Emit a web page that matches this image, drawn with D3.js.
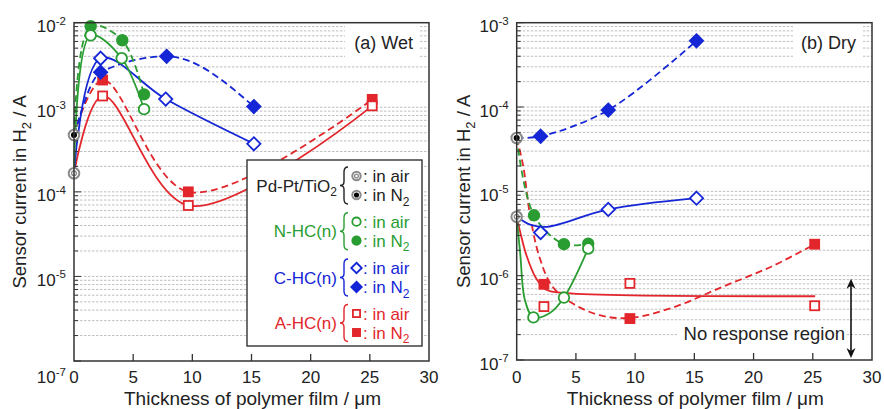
<!DOCTYPE html>
<html><head><meta charset="utf-8">
<script src="https://cdn.jsdelivr.net/npm/d3@7"></script>
<style>body{margin:0;background:#fff} svg{display:block;font-family:"Liberation Sans",Arial,sans-serif}</style>
</head><body><svg id="c" width="884" height="409"></svg>
<script>
// ---------------- data ----------------
const xTickValues = [0, 5, 10, 15, 20, 25, 30];
const wetYDecades = [1e-2, 1e-3, 1e-4, 1e-5, 1e-6];
const wetYExponents = ["-2", "-3", "-4", "-5", "-7"];
const dryYDecades = [1e-3, 1e-4, 1e-5, 1e-6, 1e-7];
const dryYExponents = ["-3", "-4", "-5", "-6", "-7"];

// (a) Wet  [thickness µm, current A]
const wetPdAir = [[0, 1.66e-4]];
const wetPdN2  = [[0, 4.7e-4]];
const wetNAir  = [[1.41, 7.1e-3], [4.03, 3.8e-3], [5.92, 9.5e-4]];
const wetNN2   = [[1.41, 9.1e-3], [4.08, 6.2e-3], [5.92, 1.42e-3]];
const wetCAir  = [[2.25, 3.8e-3], [7.75, 1.25e-3], [15.2, 3.7e-4]];
const wetCN2   = [[2.25, 2.6e-3], [7.83, 4.0e-3], [15.2, 1.02e-3]];
const wetAAir  = [[2.42, 1.36e-3], [9.66, 6.9e-5], [25.2, 1.04e-3]];
const wetAN2   = [[2.42, 2.1e-3], [9.66, 1.0e-4], [25.2, 1.24e-3]];

// (b) Dry
const dryPdAir = [[0, 5.0e-6]];
const dryPdN2  = [[0, 4.3e-5]];
const dryNAir  = [[1.41, 3.2e-7], [3.99, 5.5e-7], [6.04, 2.1e-6]];
const dryNN2   = [[1.46, 5.2e-6], [3.99, 2.36e-6], [6.04, 2.4e-6]];
const dryCAir  = [[2.02, 3.24e-6], [7.73, 6.1e-6], [15.18, 8.3e-6]];
const dryCN2   = [[2.02, 4.5e-5], [7.73, 9.2e-5], [15.18, 6.1e-4]];
const dryAAir  = [[2.3, 4.3e-7], [9.56, 8.1e-7], [25.16, 4.4e-7]];
const dryAN2   = [[2.3, 7.9e-7], [9.56, 3.1e-7], [25.16, 2.36e-6]];

// (b) Dry guide curves (drawn trends)
const dryNAirFit = [[0, 5e-6], [0.3, 1.8e-6], [0.7, 5.1e-7], [1.41, 3.2e-7], [2.8, 3.6e-7], [3.99, 5.5e-7], [6.04, 2.1e-6]];
const dryNN2Fit  = [[0, 4.3e-5], [1.46, 5.2e-6], [3.99, 2.36e-6], [6.04, 2.4e-6]];
const dryCAirFit = [[0, 5.0e-6], [1.2, 4.0e-6], [2.6, 3.8e-6], [7.73, 6.1e-6], [15.18, 8.3e-6]];
const dryCN2Fit  = [[0, 4.3e-5], [2.02, 4.5e-5], [7.73, 9.2e-5], [15.18, 6.1e-4]];
const dryAAirFit = [[0, 5e-6], [0.85, 1.7e-6], [1.7, 9e-7], [2.5, 6.8e-7], [4.2, 6.2e-7], [25.2, 5.7e-7]];
const dryAN2Fit  = [[0, 4.3e-5], [0.55, 2.0e-5], [1.1, 5.5e-6], [1.9, 1.7e-6], [3.0, 7.5e-7], [4.7, 4.7e-7], [7.0, 3.4e-7], [9.56, 3.15e-7], [13.2, 4.2e-7], [17.4, 7.4e-7], [21.6, 1.3e-6], [25.16, 2.36e-6]];

const legendGroups = ["Pd-Pt/TiO", "N-HC(n)", "C-HC(n)", "A-HC(n)"];
const legendGroupSubs = ["2", "", "", ""];

// ---------------- styles ----------------
const GREEN = "#2a9d32", BLUE = "#1526d6", RED = "#e2262b", GRAY = "#8a8a8a";
const svg = d3.select("#c");

function makePanel(cfg) {
  const x = d3.scaleLinear().domain([0, 30]).range([cfg.x0, cfg.x1]);
  const y = d3.scaleLog().domain(cfg.domain).range([cfg.y1, cfg.y0]);
  return {x, y, cfg};
}

const pA = makePanel({x0: 74, x1: 429, y0: 22.7, y1: 361, domain: [1e-6, 1e-2]});
const pB = makePanel({x0: 516.7, x1: 872, y0: 22.7, y1: 360, domain: [1e-7, 1e-3]});

function minorValues(domain) {
  const out = [];
  const lo = Math.round(Math.log10(domain[0])), hi = Math.round(Math.log10(domain[1]));
  for (let e = lo; e < hi; e++) for (let m = 1; m <= 9; m++) out.push(m * Math.pow(10, e));
  return out;
}

function drawGrid(p) {
  const g = svg.append("g");
  minorValues(p.cfg.domain).forEach(v => {
    if (v === p.cfg.domain[0]) return;
    g.append("line").attr("x1", p.cfg.x0 + 2).attr("x2", p.cfg.x1)
      .attr("y1", p.y(v)).attr("y2", p.y(v))
      .attr("stroke", "#b8b8b8").attr("stroke-width", 0.9).attr("stroke-dasharray", "2.5,1.5");
  });
}

function drawAxes(p, decades, exps, titleX, lastDown) {
  const g = svg.append("g");
  const c = p.cfg;
  minorValues(c.domain).concat([c.domain[1]]).forEach(v => {
    const isMajor = Math.abs(Math.log10(v) - Math.round(Math.log10(v))) < 1e-9;
    g.append("line").attr("x1", c.x0).attr("x2", c.x0 + (isMajor ? 7 : 4))
      .attr("y1", p.y(v)).attr("y2", p.y(v)).attr("stroke", "#333").attr("stroke-width", 1);
  });
  xTickValues.forEach(v => {
    if (v === 0 || v === 30) return;
    g.append("line").attr("x1", p.x(v)).attr("x2", p.x(v))
      .attr("y1", c.y1).attr("y2", c.y1 - 7).attr("stroke", "#333").attr("stroke-width", 1.3);
  });
  g.append("rect").attr("x", c.x0).attr("y", c.y0).attr("width", c.x1 - c.x0).attr("height", c.y1 - c.y0)
    .attr("fill", "none").attr("stroke", "#333").attr("stroke-width", 1.5);
  xTickValues.forEach(v => {
    g.append("text").attr("x", p.x(v)).attr("y", 383).attr("text-anchor", "middle")
      .attr("font-size", 17).attr("fill", "#222").text(v);
  });
  decades.forEach((v, i) => {
    let yy = p.y(v) + 9.5;
    if (lastDown && i === decades.length - 1) yy = 383;
    const t = g.append("text").attr("x", c.x0 - 8).attr("y", yy).attr("text-anchor", "end")
      .attr("font-size", 17).attr("fill", "#222");
    t.append("tspan").text("10");
    t.append("tspan").attr("dy", -7.5).attr("font-size", 11.5).text(exps[i]);
  });
  g.append("text").attr("x", (c.x0 + c.x1) / 2 + 1).attr("y", 404.5).attr("text-anchor", "middle")
    .attr("font-size", 19).attr("fill", "#222").text("Thickness of polymer film / \u03bcm");
  const yt = g.append("text").attr("transform", `translate(${titleX},${(c.y0 + c.y1) / 2}) rotate(-90)`)
    .attr("text-anchor", "middle").attr("font-size", 18.5).attr("fill", "#222");
  yt.append("tspan").text("Sensor current in H");
  yt.append("tspan").attr("dy", 4.5).attr("font-size", 13).text("2");
  yt.append("tspan").attr("dy", -4.5).text(" / A");
}

function drawCurve(p, data, color, dashed, curve) {
  const line = d3.line().x(d => p.x(d[0])).y(d => p.y(d[1]))
    .curve(curve || d3.curveCatmullRom.alpha(0.5));
  svg.append("path").datum(data).attr("d", line).attr("fill", "none")
    .attr("stroke", color).attr("stroke-width", 1.8)
    .attr("stroke-dasharray", dashed ? "7,4" : null);
}

function marker(g, shape, filled, color, cx, cy, s) {
  const fill = filled ? color : "#fff";
  if (shape === "circle") {
    g.append("circle").attr("cx", cx).attr("cy", cy).attr("r", s)
      .attr("fill", fill).attr("stroke", color).attr("stroke-width", 1.8);
  } else if (shape === "diamond") {
    const r = s * 1.25;
    g.append("path").attr("d", `M${cx},${cy - r}L${cx + r},${cy}L${cx},${cy + r}L${cx - r},${cy}Z`)
      .attr("fill", fill).attr("stroke", color).attr("stroke-width", 1.8);
  } else if (shape === "square") {
    const r = s * 0.85;
    g.append("rect").attr("x", cx - r).attr("y", cy - r).attr("width", 2 * r).attr("height", 2 * r)
      .attr("fill", fill).attr("stroke", color).attr("stroke-width", 1.8);
  } else if (shape === "pd") {
    g.append("circle").attr("cx", cx).attr("cy", cy).attr("r", s)
      .attr("fill", "#fff").attr("stroke", GRAY).attr("stroke-width", 2);
    g.append("circle").attr("cx", cx).attr("cy", cy).attr("r", s * 0.45)
      .attr("fill", filled ? "#000" : "#fff").attr("stroke", filled ? "#000" : GRAY).attr("stroke-width", 1.3);
  }
}

function drawPoints(p, data, shape, filled, color) {
  const g = svg.append("g");
  data.forEach(d => marker(g, shape, filled, color, p.x(d[0]), p.y(d[1]), 5.3));
}

// ---------------- panel (a) ----------------
drawGrid(pA);
svg.append("rect").attr("x", 345).attr("y", 24).attr("width", 74).attr("height", 35).attr("fill", "#fff");
svg.append("text").attr("x", 413).attr("y", 48.5).attr("text-anchor", "end").attr("font-size", 18)
  .attr("fill", "#222").text("(a) Wet");

drawCurve(pA, wetPdAir.concat(wetAAir), RED, false);
drawCurve(pA, wetPdN2.concat(wetAN2), RED, true);
drawCurve(pA, wetPdAir.concat(wetCAir), BLUE, false);
drawCurve(pA, wetPdN2.concat(wetCN2), BLUE, true, d3.curveMonotoneX);
drawCurve(pA, wetPdAir.concat(wetNAir), GREEN, false);
drawCurve(pA, wetPdN2.concat(wetNN2), GREEN, true);

drawPoints(pA, wetAN2, "square", true, RED);
drawPoints(pA, wetAAir, "square", false, RED);
drawPoints(pA, wetCN2, "diamond", true, BLUE);
drawPoints(pA, wetCAir, "diamond", false, BLUE);
drawPoints(pA, wetNN2, "circle", true, GREEN);
drawPoints(pA, wetNAir, "circle", false, GREEN);

// legend
(function () {
  const g = svg.append("g");
  g.append("rect").attr("x", 247).attr("y", 160).attr("width", 175).attr("height", 186)
    .attr("fill", "#fff").attr("stroke", "#333").attr("stroke-width", 1.4);
  const colors = ["#222", GREEN, BLUE, RED];
  const shapes = ["pd", "circle", "diamond", "square"];
  const rowAir = [176, 221.7, 268, 313.5];
  legendGroups.forEach((name, i) => {
    const ya = rowAir[i], yb = ya + 19, mid = (ya + yb) / 2;
    const t = g.append("text").attr("x", 337).attr("y", mid + 6).attr("text-anchor", "end")
      .attr("font-size", 17).attr("fill", colors[i]);
    t.append("tspan").text(name);
    if (legendGroupSubs[i]) t.append("tspan").attr("dy", 4.5).attr("font-size", 12).text(legendGroupSubs[i]);
    const bx = 343, top = ya - 9, bot = yb + 9;
    g.append("path").attr("d",
      `M${bx + 5},${top} Q${bx + 1},${top} ${bx + 1},${top + 5} L${bx + 1},${mid - 4} Q${bx + 1},${mid} ${bx - 3},${mid} Q${bx + 1},${mid} ${bx + 1},${mid + 4} L${bx + 1},${bot - 5} Q${bx + 1},${bot} ${bx + 5},${bot}`)
      .attr("fill", "none").attr("stroke", colors[i]).attr("stroke-width", 1.4);
    const mc = i === 0 ? GRAY : colors[i];
    marker(g, shapes[i], false, mc, 356.5, ya, 4.2);
    marker(g, shapes[i], true, mc, 356.5, yb, 4.2);
    g.append("text").attr("x", 363).attr("y", ya + 6).attr("font-size", 17).attr("fill", colors[i]).text(": in air");
    const t2 = g.append("text").attr("x", 363).attr("y", yb + 6).attr("font-size", 17).attr("fill", colors[i]);
    t2.append("tspan").text(": in N");
    t2.append("tspan").attr("dy", 4.5).attr("font-size", 12).text("2");
  });
})();

drawPoints(pA, wetPdN2, "pd", true, GRAY);
drawPoints(pA, wetPdAir, "pd", false, GRAY);
drawAxes(pA, wetYDecades, wetYExponents, 26, true);

// ---------------- panel (b) ----------------
drawGrid(pB);
svg.append("rect").attr("x", 793).attr("y", 24).attr("width", 70).attr("height", 36).attr("fill", "#fff");
svg.append("text").attr("x", 856).attr("y", 48.5).attr("text-anchor", "end").attr("font-size", 18)
  .attr("fill", "#222").text("(b) Dry");
svg.append("rect").attr("x", 678).attr("y", 321).attr("width", 168).attr("height", 27).attr("fill", "#fff");
svg.append("text").attr("x", 845).attr("y", 339.5).attr("text-anchor", "end").attr("font-size", 18.5)
  .attr("fill", "#222").text("No response region");
(function () {
  const ax = 851, ya = pB.y(1e-6) + 3, yb = pB.cfg.y1 - 2;
  svg.append("line").attr("x1", ax).attr("x2", ax).attr("y1", ya + 6).attr("y2", yb - 6)
    .attr("stroke", "#111").attr("stroke-width", 1.6);
  svg.append("path").attr("d", `M${ax},${ya} L${ax - 4.5},${ya + 10} L${ax},${ya + 7} L${ax + 4.5},${ya + 10}Z`).attr("fill", "#111");
  svg.append("path").attr("d", `M${ax},${yb} L${ax - 4.5},${yb - 10} L${ax},${yb - 7} L${ax + 4.5},${yb - 10}Z`).attr("fill", "#111");
})();

drawCurve(pB, dryAN2Fit, RED, true);
drawCurve(pB, dryAAirFit, RED, false);
drawCurve(pB, dryCN2Fit, BLUE, true);
drawCurve(pB, dryCAirFit, BLUE, false);
drawCurve(pB, dryNN2Fit, GREEN, true);
drawCurve(pB, dryNAirFit, GREEN, false);

drawPoints(pB, dryAN2, "square", true, RED);
drawPoints(pB, dryAAir, "square", false, RED);
drawPoints(pB, dryCN2, "diamond", true, BLUE);
drawPoints(pB, dryCAir, "diamond", false, BLUE);
drawPoints(pB, dryNN2, "circle", true, GREEN);
drawPoints(pB, dryNAir, "circle", false, GREEN);
drawPoints(pB, dryPdN2, "pd", true, GRAY);
drawPoints(pB, dryPdAir, "pd", false, GRAY);
drawAxes(pB, dryYDecades, dryYExponents, 470, false);
</script></body></html>
